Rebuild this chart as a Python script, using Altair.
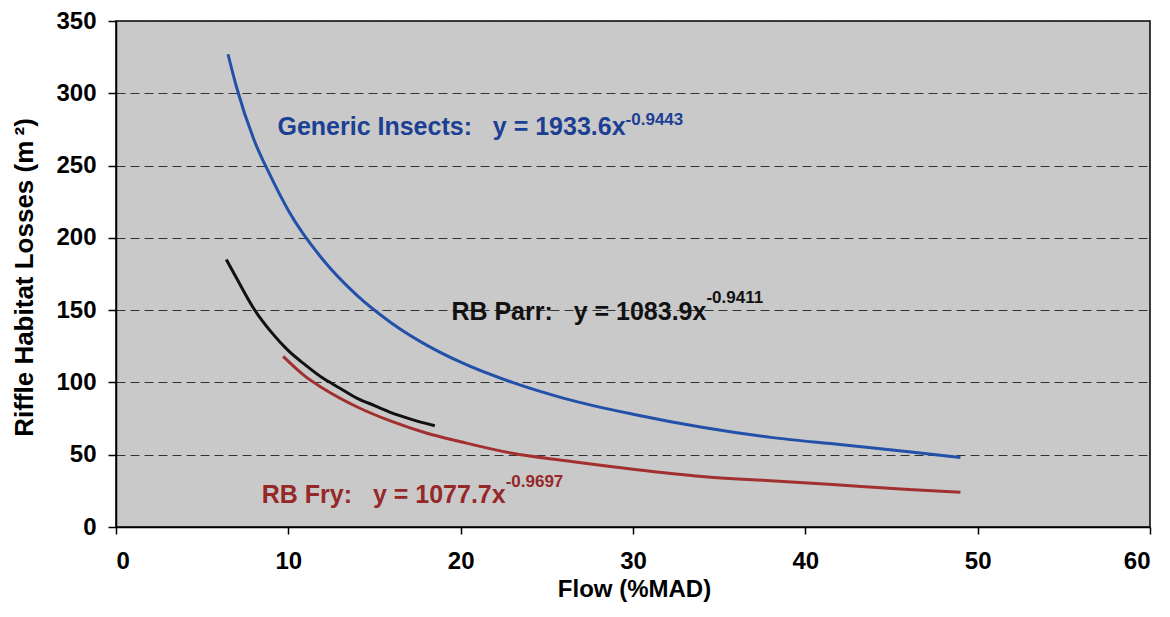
import altair as alt
import pandas as pd

# ---- data ----
gen_x = [6.5, 7, 8, 9, 10, 12, 14, 16, 18, 20, 23, 26, 30, 34, 38, 42, 46, 49]
gen_y = [327, 304, 268, 242, 219, 185, 160, 141, 126, 114, 100, 89, 78, 69, 62, 57, 52, 48]

parr_x = [6.4, 7, 8, 9, 10, 11, 12, 13, 14, 15, 16, 17, 18.5]
parr_y = [185, 172, 151, 135, 122, 112, 103, 96, 89, 84, 79, 75, 70]

fry_x = [9.7, 11, 12, 14, 16, 18, 20, 23, 26, 30, 34, 38, 42, 46, 49]
fry_y = [118, 104, 96, 83, 73, 65, 59, 51, 46, 40, 35, 32, 29, 26, 24]

series_names = ["Generic Insects", "RB Parr", "RB Fry"]
series_colors = ["#2350a8", "#111111", "#a33030"]

x_ticks = [0, 10, 20, 30, 40, 50, 60]
y_ticks = [0, 50, 100, 150, 200, 250, 300, 350]

# annotation text (equation labels) and anchor points in data units
ann_main = ["Generic Insects:\u00a0\u00a0 y = 1933.6x",
            "RB Parr:\u00a0\u00a0 y = 1083.9x",
            "RB Fry:\u00a0\u00a0 y = 1077.7x"]
ann_sup = ["-0.9443", "-0.9411", "-0.9697"]
ann_x = [29.57, 34.26, 22.61]
ann_y = [271.1, 143.2, 16.6]
ann_sup_y = [278.0, 154.9, 27.7]
ann_colors = ["#1c3f94", "#111111", "#962828"]

FONT = "Liberation Sans"

rows = []
for name, xs, ys in zip(series_names, [gen_x, parr_x, fry_x], [gen_y, parr_y, fry_y]):
    for xv, yv in zip(xs, ys):
        rows.append({"series": name, "x": xv, "y": yv})
df = pd.DataFrame(rows)

xscale = alt.Scale(domain=[0, 60], nice=False, zero=False)
yscale = alt.Scale(domain=[0, 350], nice=False)

lines = alt.Chart(df).mark_line(strokeWidth=3, interpolate="monotone").encode(
    x=alt.X("x:Q", scale=xscale,
            axis=alt.Axis(values=x_ticks, title="Flow (%MAD)", grid=False,
                          tickSize=7, labelPadding=15,
                          titleX=518, titleY=69, titleBaseline="alphabetic",
                          titleAlign="center", titleFontSize=24)),
    y=alt.Y("y:Q", scale=yscale,
            axis=alt.Axis(values=y_ticks, title="Riffle Habitat Losses (m\u2009²)",
                          grid=True, gridDash=[9, 5], gridColor="#333333",
                          gridWidth=1, tickSize=8, labelPadding=12,
                          titleX=-92, titleY=256, titleAngle=270, titleFontSize=26,
                          titleAlign="center", titleBaseline="middle")),
    color=alt.Color("series:N", scale=alt.Scale(domain=series_names, range=series_colors),
                    legend=None),
    detail="series:N",
)

layers = [lines]
for i in range(3):
    d_main = pd.DataFrame({"x": [ann_x[i]], "y": [ann_y[i]], "t": [ann_main[i]]})
    d_sup = pd.DataFrame({"x": [ann_x[i]], "y": [ann_sup_y[i]], "t": [ann_sup[i]]})
    layers.append(
        alt.Chart(d_main).mark_text(font=FONT, fontWeight="bold", fontSize=25,
                                    align="right", baseline="alphabetic",
                                    color=ann_colors[i]).encode(
            x=alt.X("x:Q", scale=xscale), y=alt.Y("y:Q", scale=yscale), text="t:N")
    )
    layers.append(
        alt.Chart(d_sup).mark_text(font=FONT, fontWeight="bold", fontSize=17,
                                   align="left", baseline="alphabetic",
                                   color=ann_colors[i]).encode(
            x=alt.X("x:Q", scale=xscale), y=alt.Y("y:Q", scale=yscale), text="t:N")
    )

chart = alt.layer(*layers).properties(
    width=1034, height=506,
    autosize=alt.AutoSizeParams(type="none"),
    padding={"left": 108, "top": 13, "right": 12, "bottom": 75},
    background="white",
).configure_view(
    fill="#c9c9c9", stroke="#000000", strokeWidth=1.5
).configure_axis(
    labelFont=FONT, labelFontWeight="bold", labelFontSize=24, labelColor="#000000",
    titleFont=FONT, titleFontWeight="bold", titleFontSize=25, titleColor="#000000",
    tickColor="#000000", tickWidth=1.5, domainColor="#000000", domainWidth=1.5,
)

chart.save("out.html", embed_options={"renderer": "svg", "actions": False})
